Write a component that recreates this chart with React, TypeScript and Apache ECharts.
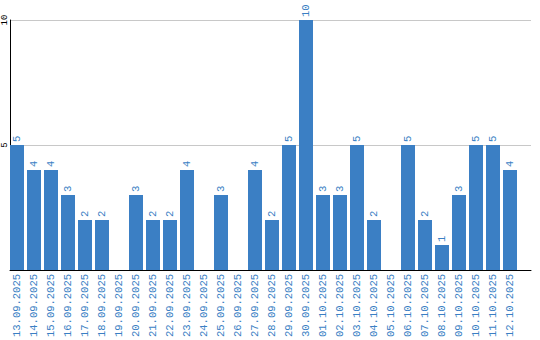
import React, { useEffect, useRef } from "react";
import * as echarts from "echarts";

const categories = [
  "13.09.2025", "14.09.2025", "15.09.2025", "16.09.2025", "17.09.2025",
  "18.09.2025", "19.09.2025", "20.09.2025", "21.09.2025", "22.09.2025",
  "23.09.2025", "24.09.2025", "25.09.2025", "26.09.2025", "27.09.2025",
  "28.09.2025", "29.09.2025", "30.09.2025", "01.10.2025", "02.10.2025",
  "03.10.2025", "04.10.2025", "05.10.2025", "06.10.2025", "07.10.2025",
  "08.10.2025", "09.10.2025", "10.10.2025", "11.10.2025", "12.10.2025",
];
const values = [5, 4, 4, 3, 2, 2, 0, 3, 2, 2, 4, 0, 3, 0, 4, 2, 5, 10, 3, 3, 5, 2, 0, 5, 2, 1, 3, 5, 5, 4];
const yMin = 0;
const yMax = 10;
const yInterval = 5;

const BLUE = "#3b7fc4";
const MONO = "'Liberation Mono', monospace";

export default function App() {
  const ref = useRef<HTMLDivElement>(null);
  useEffect(() => {
    if (!ref.current) return;
    const chart = echarts.init(ref.current, undefined, { renderer: "svg" });
    chart.setOption({
      animation: false,
      grid: [
        { left: 10, top: 20, width: 521, height: 250 },
        { left: 8.5, top: 20, width: 510, height: 250 },
      ],
      xAxis: [
        {
          gridIndex: 0, type: "value", min: 0, max: 1,
          axisLine: { show: true, lineStyle: { color: "#000", width: 1 } },
          axisTick: { show: false }, axisLabel: { show: false }, splitLine: { show: false },
        },
        {
          gridIndex: 1, type: "category", data: categories,
          axisLine: { show: false }, axisTick: { show: false },
          axisLabel: {
            rotate: 90, interval: 0, margin: 4, color: BLUE,
            fontFamily: MONO, fontSize: 10.5,
          },
        },
      ],
      yAxis: [
        {
          gridIndex: 0, type: "value", min: yMin, max: yMax, interval: yInterval,
          axisLine: { show: true, lineStyle: { color: "#000", width: 1 } },
          axisTick: { show: false },
          splitLine: { show: true, lineStyle: { color: "#c8c8c8", width: 1 } },
          axisLabel: {
            rotate: 90, margin: 1, color: "#000", fontFamily: MONO, fontSize: 9,
            showMinLabel: false, align: "center", verticalAlign: "bottom",
          },
        },
        {
          gridIndex: 1, type: "value", min: yMin, max: yMax, show: false,
        },
      ],
      series: [
        {
          type: "bar", xAxisIndex: 1, yAxisIndex: 1, data: values, barWidth: 14,
          itemStyle: { color: BLUE },
          label: {
            show: true, position: "top", rotate: 90, align: "left", verticalAlign: "middle",
            distance: 3, color: BLUE, fontFamily: MONO, fontSize: 10.5,
            formatter: (p: any) => (p.value ? String(p.value) : ""),
          },
        },
      ],
    });
    return () => chart.dispose();
  }, []);
  return <div ref={ref} style={{ width: 540, height: 340, position: "absolute", left: 0, top: 0 }} />;
}
